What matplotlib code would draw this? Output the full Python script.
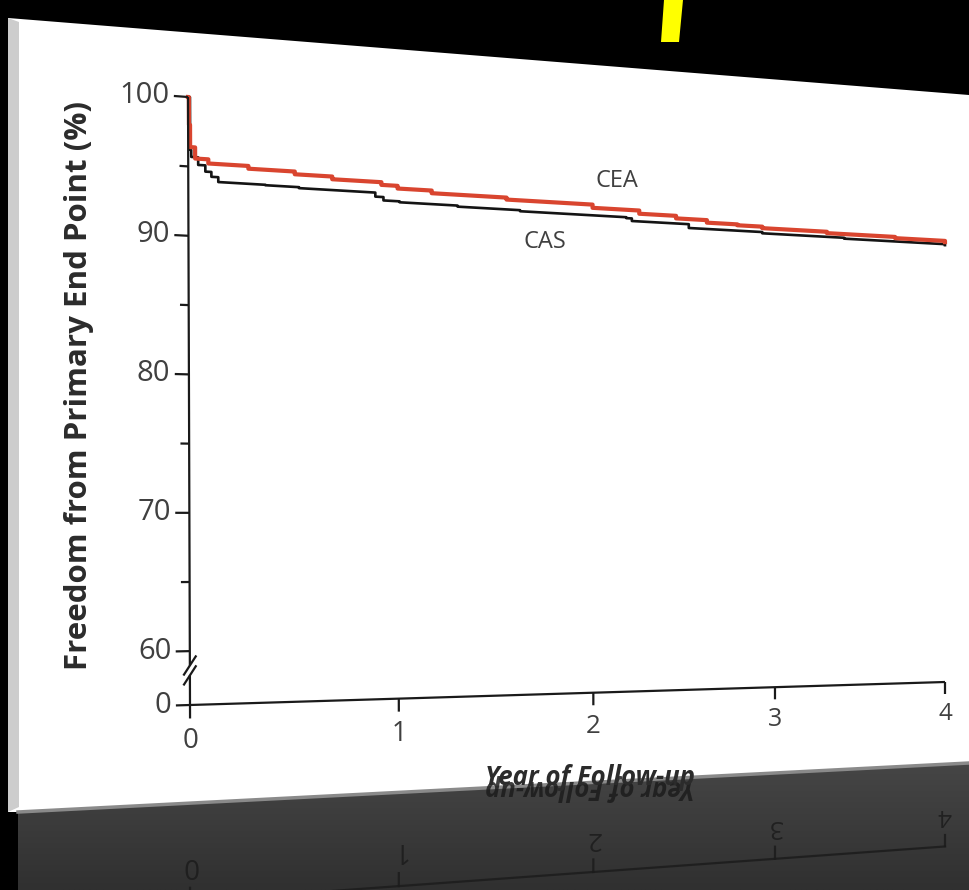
import numpy as np
import matplotlib
matplotlib.use('Agg')
import matplotlib.pyplot as plt
from matplotlib.transforms import Transform, Affine2D
from matplotlib.patches import Polygon
from matplotlib.colors import LinearSegmentedColormap

plt.rcParams['font.family'] = ['Open Sans', 'DejaVu Sans']

# Kaplan-Meier curves (years of follow-up, % free of end point)
cea_years = [0, 0.004, 0.009, 0.032, 0.093, 0.28, 0.50, 0.68, 0.92, 1.00, 1.17,
             1.55, 2.00, 2.25, 2.45, 2.62, 2.79, 2.93, 3.30, 3.70, 4.00]
cea_free = [100, 98.0, 96.4, 95.6, 95.3, 95.1, 94.9, 94.7, 94.5, 94.3, 94.1,
            93.95, 93.7, 93.45, 93.25, 93.05, 92.98, 92.86, 92.75, 92.65, 92.55]

cas_years = [0, 0.009, 0.014, 0.046, 0.079, 0.107, 0.139, 0.36, 0.52, 0.89, 0.93,
             1.01, 1.30, 1.62, 2.18, 2.21, 2.52, 2.93, 3.40, 4.00]
cas_free = [100, 96.2, 95.7, 95.15, 94.7, 94.35, 94.0, 93.97, 93.9, 93.6, 93.35,
            93.28, 93.2, 93.12, 93.05, 92.85, 92.55, 92.45, 92.38, 92.3]

y_ticks = [0, 60, 70, 80, 90, 100]
y_minor = [65, 75, 85, 95]
x_ticks = [0, 1, 2, 3, 4]
ylabel = 'Freedom from Primary End Point (%)'
xlabel = 'Year of Follow-up'

W, H = 969, 890
GAP = 3.9 / 60.0   # the 0-60 stretch is squeezed below the axis break


def squash(y):
    y = np.asarray(y, float)
    return np.where(y >= 60, y, 60 - (60 - y) * GAP)


def unsquash(f):
    f = np.asarray(f, float)
    return np.where(f >= 60, f, 60 - (60 - f) / GAP)


class Perspective(Transform):
    """Projective map of the unit square onto the tilted slide."""
    input_dims = output_dims = 2

    def __init__(self, m):
        super().__init__()
        self.m = m

    def transform_non_affine(self, values):
        v = np.asarray(values, float).reshape(-1, 2)
        p = np.column_stack([v, np.ones(len(v))]) @ self.m.T
        return p[:, :2] / p[:, 2:]


def homography(src, dst):
    A, b = [], []
    for (u, v), (x, y) in zip(src, dst):
        A.append([u, v, 1, 0, 0, 0, -u * x, -v * x])
        b.append(x)
        A.append([0, 0, 0, u, v, 1, -u * y, -v * y])
        b.append(y)
    h = np.linalg.solve(np.array(A, float), np.array(b, float))
    return np.append(h, 1).reshape(3, 3)


fig = plt.figure(figsize=(W / 100, H / 100), dpi=100, facecolor='black')
bg = fig.add_axes([0, 0, 1, 1])
bg.set_axis_off()
bg.set_facecolor('black')
bg.set_autoscale_on(False)

# slide panel and its reflection
panel = Polygon([(8, 18), (W, 95), (W, 763), (18, 812), (8, 812)],
                closed=True, fc='white', ec='none', zorder=1)
bg.add_patch(panel)
bg.add_patch(Polygon([(8, 18), (19, 22), (19, 807), (8, 812)], closed=True,
                     fc='#cdcdcd', ec='none', zorder=1.1))
refl = Polygon([(18, 812), (W, 763), (W, H), (18, H)], closed=True,
               fc='none', ec='none', zorder=1)
bg.add_patch(refl)
grad = np.linspace(0, 1, 64)[:, None] * np.ones((1, 4))
cm = LinearSegmentedColormap.from_list('refl', ['#474747', '#303030'])
im = bg.imshow(grad, cmap=cm, extent=(0, W, H, 755), origin='upper',
               aspect='auto', zorder=1.2)
im.set_clip_path(refl)
bg.plot([18, W], [812, 763], color='#8a8a8a', lw=2.5, zorder=1.3)
bg.add_patch(Polygon([(664, 0), (683, 0), (679, 42), (661, 42)], closed=True,
                     fc='#ffff00', ec='none', zorder=1))

# scale holder: years on x, broken percent scale on y
ax = fig.add_axes([0.2, 0.2, 0.7, 0.6])
ax.set_yscale('function', functions=(squash, unsquash))
ax.set_xlim(0, 4)
ax.set_ylim(0, 100)
ax.set_visible(False)

M = homography([(0, 0), (1, 0), (0, 1), (1, 1)],
               [(190, 705), (945, 682), (188, 97), (945, 152)])
base = ax.transScale + ax.transLimits + Perspective(M)
T = base + bg.transData
s = (763 - 812) / (W - 18)
mirror = Affine2D(np.array([[1, 0, 0], [2 * s, -1, 2 * 812 - 2 * 18 * s], [0, 0, 1]]))
TR = base + mirror + bg.transData


def depth(t):
    a = T.transform([(t, 60), (t, 100)])
    b = T.transform([(0, 60), (0, 100)])
    return abs(a[1, 1] - a[0, 1]) / abs(b[1, 1] - b[0, 1])


# curves
bg.plot(cas_years, cas_free, drawstyle='steps-post', color='#141414', lw=1.9,
        transform=T, zorder=4)
bg.plot(cea_years, cea_free, drawstyle='steps-post', color='#d9452f', lw=3.0,
        transform=T, zorder=5)

# axes
ak = dict(color='#1a1a1a', lw=1.6, transform=T, zorder=6, solid_capstyle='butt')
bg.plot([0, 4], [0, 0], **ak)
bg.plot([0, 0], [0, 33], **ak)
bg.plot([0, 0], [44, 100], **ak)
for yc in (33, 44):
    bg.plot([-0.03, 0.03], [yc - 11, yc + 11], **ak)
for t in y_ticks:
    bg.plot([-0.065, 0], [t, t], **ak)
    bg.text(-0.085, t, str(t), ha='right', va='center', fontsize=21,
            color='#404040', transform=T, zorder=6)
for t in y_minor:
    bg.plot([-0.04, 0], [t, t], **ak)
for t in x_ticks:
    k = depth(t)
    bg.plot([t, t], [0, -15], **ak)
    bg.text(t, -25, str(t), ha='center', va='top', fontsize=20 * k,
            color='#404040', transform=T, zorder=6)

bg.text(2.13, 95.9, 'CEA', ha='center', va='center', fontsize=17,
        color='#404040', transform=T, zorder=6)
bg.text(1.75, 90.9, 'CAS', ha='center', va='center', fontsize=17,
        color='#404040', transform=T, zorder=6)
bg.text(-0.5, 79, ylabel, rotation=90, ha='center', va='center', fontsize=22.5,
        fontweight='bold', color='#2b2b2b', transform=T, zorder=6)
xl = bg.text(1.98, -101, xlabel, ha='center', va='center', fontsize=18.5,
             fontweight='bold', style='italic', color='#2b2b2b', transform=T,
             zorder=6)
xl.set_clip_path(panel)

# mirrored x axis on the floor
rk = dict(color='#1c1c1c', lw=1.6, transform=TR, zorder=2, alpha=0.85)
ln = bg.plot([0, 4], [0, 0], **rk)[0]
ln.set_clip_path(refl)
for t in x_ticks:
    k = depth(t)
    ln = bg.plot([t, t], [0, -15], **rk)[0]
    ln.set_clip_path(refl)
    tx = bg.text(t, -25, str(t), ha='center', va='bottom', fontsize=20 * k,
                 rotation=180, color='#1c1c1c', alpha=0.85, transform=TR, zorder=2)
    tx.set_clip_path(refl)
rx = bg.text(1.98, -101, xlabel, ha='center', va='center', fontsize=18.5,
             rotation=180, fontweight='bold', style='italic', color='#1c1c1c',
             alpha=0.85, transform=TR, zorder=2)
rx.set_clip_path(refl)

bg.set_xlim(0, W)
bg.set_ylim(H, 0)

fig.savefig('out.png', dpi=100, facecolor='black')
